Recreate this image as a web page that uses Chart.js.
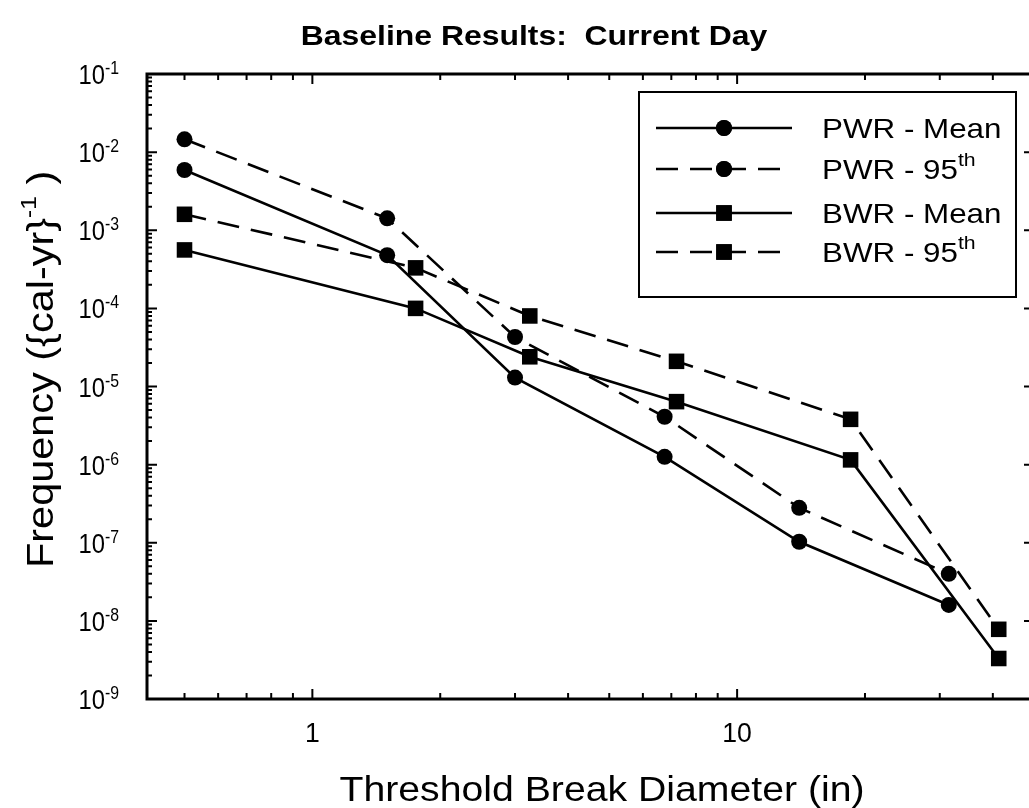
<!DOCTYPE html>
<html>
<head>
<meta charset="utf-8">
<script src="https://cdn.jsdelivr.net/npm/chart.js@4.4.1/dist/chart.umd.min.js"></script>
<style>
  html, body { margin: 0; padding: 0; background: #fff; overflow: hidden; }
  #wrap { width: 1045px; height: 808px; }
</style>
</head>
<body>
<div id="wrap"><canvas id="chart" width="1045" height="808"></canvas></div>
<script>
// values
const pwrX = [0.5, 1.5, 3.0, 6.75, 14, 31.5];
const pwrMean = [5.9e-3, 4.8e-4, 1.3e-5, 1.26e-6, 1.03e-7, 1.6e-8];
const pwr95 = [1.46e-2, 1.42e-3, 4.3e-5, 4.1e-6, 2.8e-7, 4.0e-8];

const bwrX = [0.5, 1.75, 3.25, 7.2, 18.5, 41.3];
const bwrMean = [5.6e-4, 1.0e-4, 2.4e-5, 6.4e-6, 1.15e-6, 3.3e-9];
const bwr95 = [1.6e-3, 3.3e-4, 8.0e-5, 2.1e-5, 3.8e-6, 7.8e-9];

const legendMain = ['PWR - Mean', 'PWR - 95', 'BWR - Mean', 'BWR - 95'];
const legendSup = ['', 'th', '', 'th'];

const yExponents = [-1, -2, -3, -4, -5, -6, -7, -8, -9];
const xTickValues = [1, 10];
const xTickLabels = ['1', '10'];

const chartTitle = 'Baseline Results:  Current Day';
const xTitle = 'Threshold Break Diameter (in)';
const yTitleMain = 'Frequency ({cal-yr}';
const yTitleSup = '-1';

const FONT = '"Liberation Sans", Arial, Helvetica, sans-serif';
const STRETCH = 1.12;
const DASH = [22, 12];

function toPoints(xs, ys) {
  return xs.map((x, i) => ({ x: x, y: ys[i] }));
}

function makeSet(idx, xs, ys, style, dashed) {
  return {
    label: legendMain[idx] + legendSup[idx],
    data: toPoints(xs, ys),
    borderColor: '#000',
    backgroundColor: '#000',
    borderWidth: 2.6,
    borderDash: dashed ? DASH : [],
    pointStyle: style,
    pointRadius: style === 'rect' ? 11 : 8,
    pointBorderWidth: 0,
    tension: 0
  };
}

// text pieces, some raised (superscripts), stretched sideways like the scan
function richWidth(ctx, parts) {
  let w = 0;
  parts.forEach(p => {
    ctx.font = (p.bold ? 'bold ' : '') + p.size + 'px ' + FONT;
    w += ctx.measureText(p.t).width * (p.sx || STRETCH);
  });
  return w;
}

function drawRich(ctx, parts, x, y, align) {
  const w = richWidth(ctx, parts);
  let cx = x;
  if (align === 'right') cx = x - w;
  if (align === 'center') cx = x - w / 2;
  ctx.textBaseline = 'alphabetic';
  ctx.textAlign = 'left';
  parts.forEach(p => {
    const sx = p.sx || STRETCH;
    ctx.font = (p.bold ? 'bold ' : '') + p.size + 'px ' + FONT;
    ctx.save();
    ctx.translate(cx, y - (p.rise || 0));
    ctx.scale(sx, 1);
    ctx.fillText(p.t, 0, 0);
    ctx.restore();
    cx += ctx.measureText(p.t).width * sx;
  });
}

function minorValues(min, max) {
  const out = [];
  for (let e = Math.floor(Math.log10(min)); e <= Math.ceil(Math.log10(max)); e++) {
    for (let m = 2; m <= 9; m++) {
      const v = m * Math.pow(10, e);
      if (v > min && v < max) out.push(v);
    }
  }
  return out;
}

const framePlugin = {
  id: 'frame',
  afterDraw(chart) {
    const ctx = chart.ctx;
    const a = chart.chartArea;
    const xs = chart.scales.x;
    const ys = chart.scales.y;
    ctx.save();
    ctx.fillStyle = '#000';
    ctx.strokeStyle = '#000';

    // inward ticks on all four sides
    ctx.lineWidth = 2;
    ctx.beginPath();
    const yMajor = yExponents.map(e => Math.pow(10, e));
    xTickValues.forEach(v => {
      const px = xs.getPixelForValue(v);
      ctx.moveTo(px, a.bottom); ctx.lineTo(px, a.bottom - 10);
      ctx.moveTo(px, a.top); ctx.lineTo(px, a.top + 10);
    });
    minorValues(xs.min, xs.max).forEach(v => {
      const px = xs.getPixelForValue(v);
      ctx.moveTo(px, a.bottom); ctx.lineTo(px, a.bottom - 6);
      ctx.moveTo(px, a.top); ctx.lineTo(px, a.top + 6);
    });
    yMajor.forEach(v => {
      const py = ys.getPixelForValue(v);
      ctx.moveTo(a.left, py); ctx.lineTo(a.left + 10, py);
      ctx.moveTo(a.right, py); ctx.lineTo(a.right - 10, py);
    });
    minorValues(ys.min, ys.max).forEach(v => {
      const py = ys.getPixelForValue(v);
      ctx.moveTo(a.left, py); ctx.lineTo(a.left + 5, py);
      ctx.moveTo(a.right, py); ctx.lineTo(a.right - 5, py);
    });
    ctx.stroke();

    // frame
    ctx.lineWidth = 3;
    ctx.strokeRect(a.left, a.top, a.right - a.left, a.bottom - a.top);

    // y tick labels
    yExponents.forEach(e => {
      const py = ys.getPixelForValue(Math.pow(10, e));
      drawRich(ctx, [{ t: '10', size: 27, sx: 0.88 }, { t: String(e), size: 18, rise: 10, sx: 0.88 }], a.left - 28, py + 10, 'right');
    });
    // x tick labels
    xTickValues.forEach((v, i) => {
      const px = xs.getPixelForValue(v);
      drawRich(ctx, [{ t: xTickLabels[i], size: 28, sx: 0.95 }], px, a.bottom + 43, 'center');
    });

    // titles
    drawRich(ctx, [{ t: chartTitle, size: 28.5, bold: true }], 534, 45, 'center');
    drawRich(ctx, [{ t: xTitle, size: 35 }], 602, 801, 'center');
    ctx.save();
    ctx.translate(53, 568);
    ctx.rotate(-Math.PI / 2);
    drawRich(ctx, [{ t: yTitleMain, size: 37 }, { t: yTitleSup, size: 22, rise: 17 }, { t: ' )', size: 37 }], 0, 0, 'left');
    ctx.restore();

    // legend box inside the plot
    const box = { left: 639, top: 92, right: 1016, bottom: 297 };
    ctx.lineWidth = 2;
    ctx.strokeRect(box.left, box.top, box.right - box.left, box.bottom - box.top);
    const rowY = [128, 169, 213, 252];
    chart.data.datasets.forEach((ds, i) => {
      const y = rowY[i];
      ctx.save();
      ctx.lineWidth = 2.5;
      ctx.setLineDash(ds.borderDash);
      ctx.beginPath();
      ctx.moveTo(656, y);
      ctx.lineTo(792, y);
      ctx.stroke();
      ctx.restore();
      Chart.helpers.drawPoint(ctx, {
        pointStyle: ds.pointStyle,
        radius: ds.pointRadius,
        borderWidth: 0,
        rotation: 0
      }, 724, y);
      ctx.fillStyle = '#000';
      ctx.fill();
      const parts = [{ t: legendMain[i], size: 28 }];
      if (legendSup[i]) parts.push({ t: legendSup[i], size: 19, rise: 13 });
      drawRich(ctx, parts, 822, y + 10, 'left');
    });

    ctx.restore();
  }
};

new Chart(document.getElementById('chart'), {
  type: 'line',
  data: {
    datasets: [
      makeSet(0, pwrX, pwrMean, 'circle', false),
      makeSet(1, pwrX, pwr95, 'circle', true),
      makeSet(2, bwrX, bwrMean, 'rect', false),
      makeSet(3, bwrX, bwr95, 'rect', true)
    ]
  },
  options: {
    responsive: false,
    animation: false,
    events: [],
    layout: { padding: { left: 147, top: 74, right: 6, bottom: 109 } },
    plugins: {
      legend: { display: false },
      title: { display: false },
      tooltip: { enabled: false }
    },
    scales: {
      x: {
        type: 'logarithmic',
        display: false,
        min: 0.408,
        max: 50
      },
      y: {
        type: 'logarithmic',
        display: false,
        min: 1e-9,
        max: 1e-1
      }
    }
  },
  plugins: [framePlugin]
});
</script>
</body>
</html>
